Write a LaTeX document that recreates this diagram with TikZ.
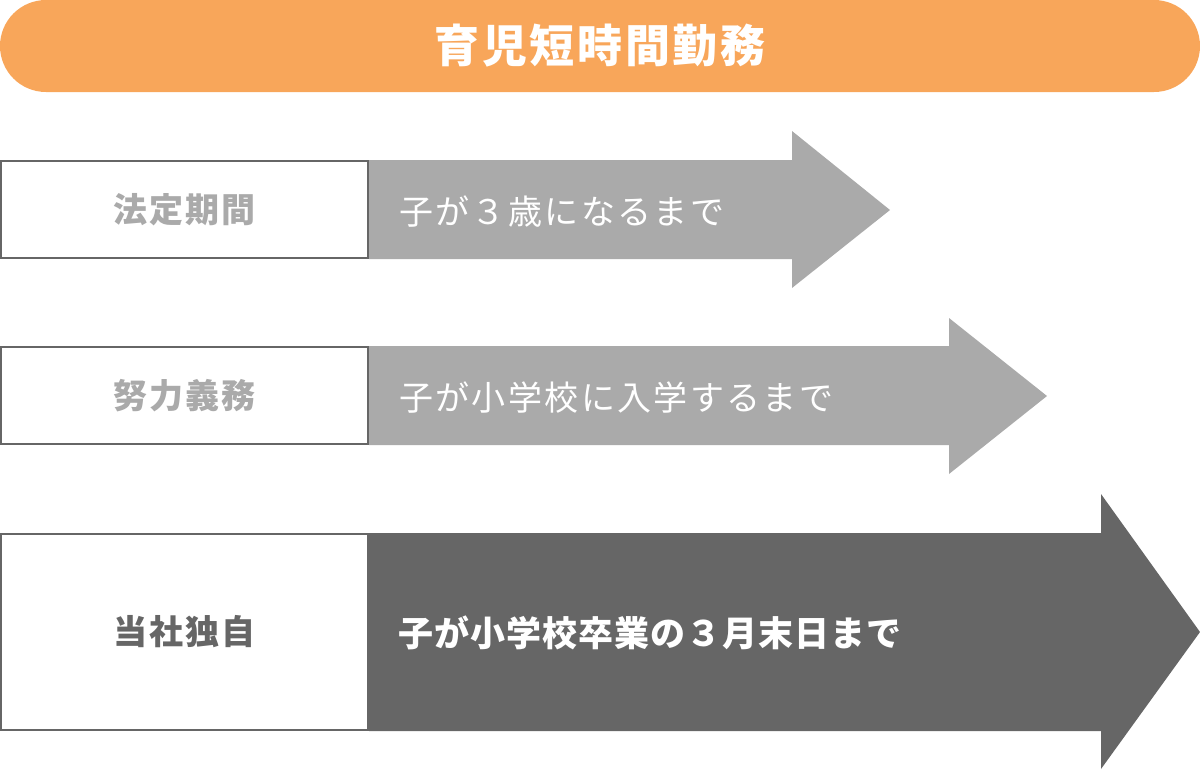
\documentclass[tikz,border=0pt]{standalone}
\usepackage{fontspec}
\setmainfont{Noto Sans CJK JP}
\usetikzlibrary{positioning}
\definecolor{headorange}{HTML}{F8A65A}
\definecolor{lawgray}{HTML}{AAAAAA}
\definecolor{owndark}{HTML}{666666}
\definecolor{framegray}{HTML}{666666}

\begin{document}
\begin{tikzpicture}[
    x=1pt, y=-1pt,
    titlebar/.style={fill=headorange, rounded corners=46pt, minimum width=1200pt, minimum height=92pt, inner sep=0pt, text=white, font=\fontsize{45}{48}\selectfont\bfseries\addfontfeature{LetterSpace=6}},
    period/.style={draw=framegray, line width=2pt, fill=white, minimum width=367pt, minimum height=#1, inner sep=0pt},
    periodlab/.style={text=#1, font=\fontsize{34}{38}\selectfont\bfseries\addfontfeature{LetterSpace=5}},
    span/.style={fill=#1},
    spanlab/.style={anchor=west, inner sep=0pt, text=white, font=\fontsize{34}{38}\selectfont\addfontfeature{LetterSpace=7}},
]
\useasboundingbox (0,0) rectangle (1200,772);

% Title
\node[titlebar] (title) at (600,46) {育児短時間勤務};

% Legal period
\fill[span=lawgray] (369,160) -- (792,160) -- (792,131) -- (890,210) -- (792,288) -- (792,259) -- (369,259) -- cycle;
\node[period=97pt] (legal) at (184.5,209.5) {};
\node[periodlab=lawgray] (legallab) at (legal.center) {法定期間};
\node[spanlab] (legalspan) at (399,212) {子が３歳になるまで};

% Obligation to endeavour
\fill[span=lawgray] (369,346) -- (949,346) -- (949,318) -- (1047,396) -- (949,474) -- (949,445) -- (369,445) -- cycle;
\node[period=97pt] (effort) at (184.5,395.5) {};
\node[periodlab=lawgray] (effortlab) at (effort.center) {努力義務};
\node[spanlab] (effortspan) at (399,398) {子が小学校に入学するまで};

% Company's own
\fill[span=owndark] (369,533) -- (1101,533) -- (1101,494) -- (1200,632) -- (1101,769) -- (1101,731) -- (369,731) -- cycle;
\node[period=196pt] (own) at (184.5,632) {};
\node[periodlab=owndark] (ownlab) at (own.center) {当社独自};
\node[spanlab, font=\fontsize{35}{38}\selectfont\bfseries\addfontfeature{LetterSpace=3}] (ownspan) at (398,633) {子が小学校卒業の３月末日まで};

\end{tikzpicture}
\end{document}
